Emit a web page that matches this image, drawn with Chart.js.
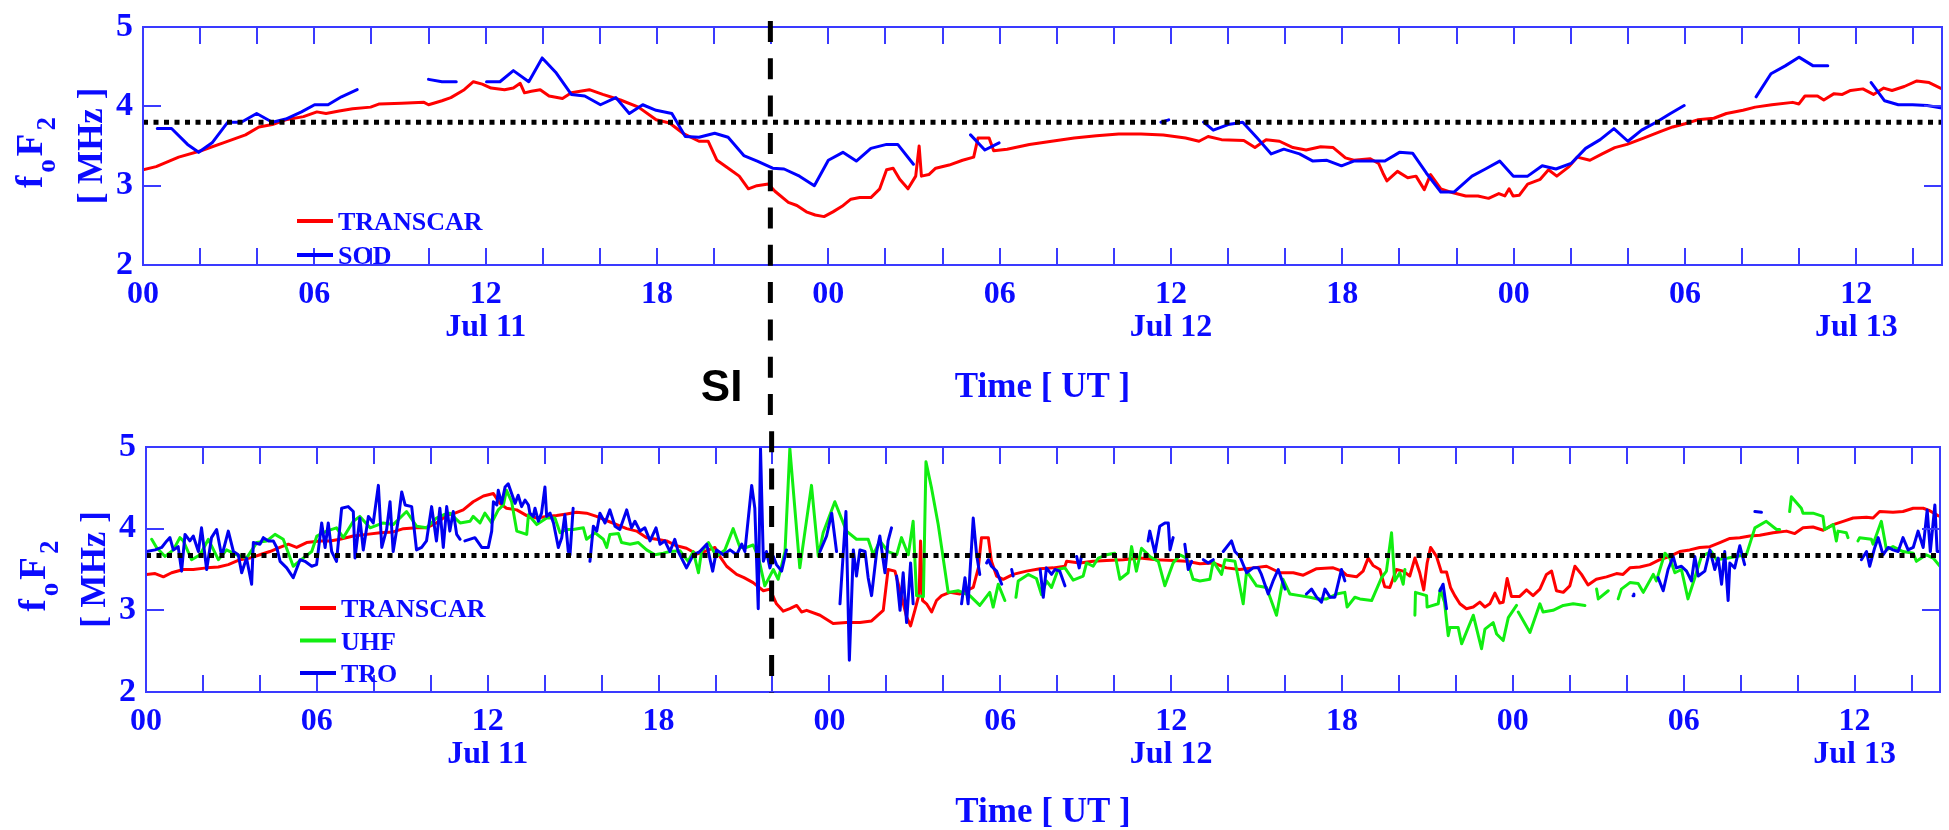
<!DOCTYPE html>
<html>
<head>
<meta charset="utf-8">
<title>foF2 - TRANSCAR vs SOD / UHF / TRO</title>
<script src="https://cdn.jsdelivr.net/npm/chart.js@4.4.1/dist/chart.umd.min.js"></script>
<style>
  html, body { margin: 0; padding: 0; background: #fff; }
  #figure { position: relative; width: 1949px; height: 830px; overflow: hidden; }
  .panel { position: absolute; left: 0; width: 1949px; }
  #panelTop { top: 0; height: 420px; }
  #panelBottom { top: 420px; height: 410px; }
  canvas { display: block; }
</style>
</head>
<body>
<div id="figure">
  <div class="panel" id="panelTop"><canvas id="topChart" width="1949" height="420"></canvas></div>
  <div class="panel" id="panelBottom"><canvas id="bottomChart" width="1949" height="410"></canvas></div>
</div>
<script>
// time axis: hours since 11 July 00 UT
const X_MIN = 0;
const X_MAX = 63;
const dayNames = ['Jul 11', 'Jul 12', 'Jul 13'];
const siOnsetHour = 21.97;

// reference foF2 levels (dotted lines)
const referenceLevelTop = 3.8;
const referenceLevelBottom = 3.67;

// [hour, foF2 MHz]; null marks a data gap
const transcarTop = [
  [0, 3.20], [0.46, 3.24], [1.25, 3.36], [2.03, 3.44], [2.81, 3.54], [3.59, 3.64], [4.06, 3.74], [4.53, 3.77],
  [5.0, 3.83], [5.62, 3.87], [6.09, 3.93], [6.41, 3.91], [6.87, 3.94], [7.34, 3.97], [7.97, 3.99], [8.28, 4.03],
  [9.06, 4.04], [9.84, 4.05], [10.0, 4.02], [10.47, 4.07], [10.78, 4.11], [11.25, 4.21], [11.57, 4.31], [11.88, 4.28],
  [12.19, 4.23], [12.66, 4.21], [12.97, 4.23], [13.21, 4.29], [13.36, 4.17], [13.6, 4.19], [13.91, 4.21], [14.22, 4.13],
  [14.69, 4.10], [15.0, 4.17], [15.31, 4.19], [15.63, 4.21], [16.1, 4.15], [16.72, 4.08], [17.35, 3.99], [17.97, 3.83],
  [18.44, 3.79], [18.91, 3.66], [19.47, 3.56], [19.79, 3.56], [20.1, 3.32], [20.57, 3.20], [20.88, 3.12], [21.2, 2.96],
  [21.5, 3.00], [21.9, 3.02], [22.13, 2.93], [22.6, 2.79], [22.9, 2.75], [23.23, 2.67], [23.54, 2.63], [23.85, 2.61],
  [24.16, 2.67], [24.48, 2.74], [24.79, 2.83], [25.1, 2.85], [25.49, 2.85], [25.8, 2.96], [26.04, 3.20], [26.27, 3.22],
  [26.5, 3.08], [26.79, 2.96], [27.06, 3.12], [27.18, 3.50], [27.26, 3.12], [27.52, 3.14], [27.76, 3.22], [28.23, 3.26],
  [28.7, 3.32], [29.09, 3.36], [29.24, 3.60], [29.63, 3.60], [29.79, 3.44], [30.26, 3.46], [31.04, 3.52], [31.82, 3.56],
  [32.61, 3.60], [33.39, 3.63], [34.17, 3.65], [34.95, 3.65], [35.73, 3.64], [36.51, 3.60], [36.98, 3.56], [37.3, 3.62],
  [37.77, 3.58], [38.55, 3.57], [38.94, 3.48], [39.33, 3.58], [39.8, 3.56], [40.27, 3.48], [40.73, 3.45], [41.24, 3.49],
  [41.68, 3.48], [42.11, 3.35], [42.4, 3.32], [42.69, 3.33], [42.98, 3.34], [43.27, 3.28], [43.42, 3.16], [43.56, 3.06],
  [43.93, 3.18], [44.29, 3.10], [44.58, 3.12], [44.87, 2.95], [45.09, 3.14], [45.45, 2.96], [45.88, 2.91], [46.32, 2.87],
  [46.75, 2.87], [47.12, 2.84], [47.48, 2.90], [47.69, 2.87], [47.84, 2.96], [47.98, 2.87], [48.2, 2.88], [48.49, 3.02],
  [48.93, 3.08], [49.22, 3.20], [49.51, 3.12], [49.94, 3.24], [50.23, 3.36], [50.67, 3.32], [51.1, 3.40], [51.54, 3.48],
  [51.97, 3.52], [52.55, 3.60], [53.13, 3.68], [53.57, 3.74], [54.0, 3.78], [54.44, 3.83], [55.01, 3.85], [55.45, 3.91],
  [56.03, 3.95], [56.46, 3.99], [57.04, 4.02], [57.77, 4.05], [57.99, 4.03], [58.2, 4.13], [58.64, 4.13], [58.86, 4.08],
  [59.22, 4.16], [59.51, 4.15], [59.8, 4.20], [60.23, 4.22], [60.6, 4.15], [60.96, 4.23], [61.25, 4.20], [61.68, 4.25],
  [62.12, 4.32], [62.55, 4.30], [63.0, 4.22]
];

const sodTop = [
  [0.5, 3.72], [1.0, 3.72], [1.56, 3.52], [1.95, 3.42], [2.42, 3.54], [2.97, 3.80], [3.44, 3.80], [3.98, 3.91],
  [4.53, 3.80], [5.0, 3.84], [5.55, 3.93], [6.01, 4.02], [6.48, 4.02], [6.95, 4.12], [7.5, 4.21], [8.5, null],
  [10.0, 4.34], [10.47, 4.31], [10.97, 4.31], [11.5, null],
  [12.03, 4.31], [12.5, 4.31], [12.97, 4.45], [13.51, 4.31], [13.98, 4.61], [14.45, 4.43], [15.0, 4.15], [15.47, 4.13],
  [16.02, 4.02], [16.56, 4.11], [17.03, 3.91], [17.5, 4.02], [17.97, 3.95], [18.52, 3.91], [18.99, 3.62], [19.47, 3.61],
  [20.02, 3.66], [20.49, 3.61], [21.04, 3.38], [21.51, 3.31], [22.05, 3.22], [22.45, 3.21], [22.99, 3.12], [23.51, 3.00],
  [24.0, 3.32], [24.51, 3.42], [24.98, 3.31], [25.49, 3.47], [26.04, 3.52], [26.43, 3.52], [26.98, 3.27], [27.5, null],
  [28.98, 3.64], [29.48, 3.45], [29.98, 3.54], [30.5, null],
  [35.65, 3.80], [35.92, 3.83], [36.5, null],
  [37.14, 3.80], [37.48, 3.70], [38.0, 3.77], [38.51, 3.80], [39.02, 3.60], [39.51, 3.40], [39.95, 3.46], [40.5, 3.40],
  [40.97, 3.31], [41.46, 3.32], [41.97, 3.25], [42.4, 3.31], [42.91, 3.31], [43.49, 3.31], [44.0, 3.42], [44.46, 3.41],
  [44.94, 3.16], [45.45, 2.92], [45.91, 2.92], [46.54, 3.12], [47.01, 3.21], [47.51, 3.31], [47.99, 3.12], [48.49, 3.12],
  [49.0, 3.25], [49.48, 3.21], [50.01, 3.28], [50.52, 3.47], [51.03, 3.58], [51.51, 3.72], [52.0, 3.56], [52.48, 3.70],
  [52.99, 3.80], [53.49, 3.91], [53.97, 4.01], [55.0, null],
  [56.49, 4.12], [57.01, 4.41], [57.51, 4.51], [57.99, 4.62], [58.49, 4.51], [59.0, 4.51], [59.7, null],
  [60.52, 4.30], [60.99, 4.07], [61.47, 4.02], [61.97, 4.02], [62.48, 4.01], [62.99, 3.98]
];

const transcarBottom = [
  [0.02, 3.44], [0.32, 3.45], [0.61, 3.41], [0.90, 3.46], [1.31, 3.50], [1.66, 3.50], [2.13, 3.52], [2.54, 3.53],
  [2.89, 3.56], [3.30, 3.62], [3.65, 3.64], [4.00, 3.68], [4.35, 3.72], [4.70, 3.77], [5.00, 3.81], [5.29, 3.77],
  [5.64, 3.83], [6.11, 3.85], [6.46, 3.85], [6.81, 3.87], [7.28, 3.91], [7.75, 3.93], [8.22, 3.95], [8.68, 3.96],
  [9.04, 4.00], [9.50, 4.01], [9.85, 4.01], [10.20, 4.07], [10.60, 4.17], [10.85, 4.19], [11.14, 4.23], [11.49, 4.33],
  [11.85, 4.40], [12.20, 4.43], [12.43, 4.31], [12.66, 4.25], [13.02, 4.23], [13.37, 4.16], [13.72, 4.13], [14.07, 4.15],
  [14.42, 4.16], [14.77, 4.18], [15.12, 4.20], [15.47, 4.19], [15.82, 4.15], [16.17, 4.10], [16.53, 4.05], [16.88, 4.00],
  [17.23, 3.97], [17.58, 3.89], [17.93, 3.87], [18.28, 3.85], [18.63, 3.79], [18.98, 3.76], [19.34, 3.69], [19.69, 3.73],
  [19.98, 3.77], [20.15, 3.66], [20.39, 3.54], [20.74, 3.44], [21.00, 3.40], [21.32, 3.34], [21.68, 3.24], [21.91, 3.26],
  [22.14, 3.08], [22.38, 2.99], [22.61, 3.02], [22.85, 3.06], [23.02, 2.98], [23.20, 3.00], [23.67, 2.94], [24.13, 2.84],
  [24.60, 2.85], [25.07, 2.85], [25.48, 2.87], [25.89, 3.00], [26.06, 3.50], [26.30, 3.48], [26.48, 3.24], [26.71, 2.92],
  [26.85, 2.81], [27.00, 3.00], [27.15, 3.20], [27.20, 3.85], [27.27, 3.12], [27.41, 3.08], [27.59, 2.98], [27.76, 3.12],
  [27.94, 3.18], [28.23, 3.22], [28.58, 3.20], [29.05, 3.28], [29.23, 3.52], [29.34, 3.89], [29.58, 3.89], [29.69, 3.60],
  [29.87, 3.42], [30.10, 3.38], [30.45, 3.44], [30.92, 3.48], [31.39, 3.51], [31.86, 3.52], [32.27, 3.54], [32.33, 3.60],
  [32.79, 3.58], [33.26, 3.60], [33.73, 3.61], [34.32, 3.62], [34.90, 3.64], [35.49, 3.62], [36.07, 3.61], [36.54, 3.60],
  [37.01, 3.57], [37.48, 3.58], [37.94, 3.52], [38.41, 3.50], [38.88, 3.52], [39.35, 3.54], [39.82, 3.46], [40.29, 3.46],
  [40.64, 3.43], [41.11, 3.51], [41.69, 3.52], [42.00, 3.48], [42.16, 3.43], [42.51, 3.41], [42.74, 3.48], [42.92, 3.64],
  [43.09, 3.55], [43.33, 3.50], [43.50, 3.29], [43.68, 3.28], [43.91, 3.50], [44.15, 3.48], [44.38, 3.42], [44.56, 3.64],
  [44.73, 3.46], [44.87, 3.25], [44.99, 3.58], [45.11, 3.77], [45.32, 3.66], [45.49, 3.47], [45.67, 3.47], [45.81, 3.28],
  [45.96, 3.18], [46.14, 3.08], [46.37, 3.02], [46.61, 3.04], [46.84, 3.10], [47.02, 3.04], [47.19, 3.08], [47.37, 3.21],
  [47.54, 3.09], [47.66, 3.10], [47.80, 3.39], [47.95, 3.17], [48.24, 3.17], [48.48, 3.25], [48.71, 3.18], [48.95, 3.26],
  [49.18, 3.44], [49.36, 3.48], [49.53, 3.24], [49.77, 3.22], [50.00, 3.30], [50.18, 3.54], [50.41, 3.44], [50.64, 3.31],
  [50.93, 3.38], [51.29, 3.41], [51.64, 3.45], [51.87, 3.44], [52.11, 3.52], [52.46, 3.53], [52.81, 3.56], [53.16, 3.62],
  [53.51, 3.66], [53.86, 3.72], [54.21, 3.74], [54.56, 3.77], [54.92, 3.78], [55.27, 3.83], [55.62, 3.88], [55.97, 3.89],
  [56.32, 3.91], [56.67, 3.92], [57.14, 3.95], [57.61, 3.97], [57.90, 3.94], [58.19, 4.01], [58.54, 4.02], [58.90, 3.98],
  [59.25, 4.05], [59.60, 4.09], [59.95, 4.13], [60.42, 4.14], [60.65, 4.13], [60.88, 4.21], [61.35, 4.20], [61.70, 4.21],
  [62.06, 4.25], [62.41, 4.25], [62.64, 4.22], [62.93, 4.16], [63.0, 4.15]
];

const uhfBottom = [
  [0.20, 3.87], [0.37, 3.77], [0.67, 3.66], [0.96, 3.74], [1.19, 3.89], [1.31, 3.85], [1.60, 3.62], [1.90, 3.68],
  [2.19, 3.87], [2.54, 3.62], [2.83, 3.74], [3.18, 3.68], [3.53, 3.64], [3.89, 3.83], [4.24, 3.85], [4.53, 3.93],
  [4.82, 3.87], [5.17, 3.54], [5.52, 3.64], [5.82, 3.72], [6.00, 3.91], [6.34, 3.97], [6.69, 4.01], [6.93, 3.89],
  [7.28, 4.09], [7.51, 4.15], [7.87, 4.01], [8.33, 4.07], [8.68, 4.05], [9.15, 4.21], [9.50, 4.03], [9.85, 4.01],
  [10.20, 4.13], [10.45, 4.17], [10.67, 4.19], [11.03, 4.07], [11.38, 4.09], [11.49, 4.15], [11.73, 4.07], [11.90, 4.19],
  [12.14, 4.07], [12.37, 4.23], [12.55, 4.29], [12.66, 4.47], [12.84, 4.33], [13.02, 3.97], [13.37, 3.93], [13.43, 4.17],
  [13.72, 4.05], [14.07, 4.13], [14.36, 4.13], [14.54, 3.95], [14.77, 3.99], [15.00, 3.99], [15.36, 4.01], [15.47, 3.87],
  [15.77, 3.95], [16.06, 3.87], [16.18, 3.77], [16.29, 3.93], [16.59, 3.94], [16.70, 3.83], [17.00, 3.81], [17.29, 3.83],
  [17.58, 3.74], [17.87, 3.68], [18.17, 3.70], [18.40, 3.72], [18.75, 3.73], [19.04, 3.60], [19.22, 3.72], [19.40, 3.46],
  [19.51, 3.72], [19.75, 3.83], [20.04, 3.66], [20.33, 3.74], [20.62, 4.00], [20.86, 3.77], [21.09, 3.77], [21.32, 3.80],
  [21.50, 3.66], [21.73, 3.30], [22.03, 3.50], [22.20, 3.38], [22.44, 3.72], [22.61, 4.98], [22.96, 3.52], [23.37, 4.53],
  [23.61, 3.66], [23.78, 3.95], [24.19, 4.33], [24.60, 3.97], [24.95, 3.87], [25.36, 3.87], [25.54, 3.68], [25.77, 3.85],
  [26.06, 3.72], [26.36, 3.68], [26.53, 3.89], [26.77, 3.68], [26.94, 4.09], [27.06, 3.18], [27.30, 3.17], [27.39, 4.82],
  [27.59, 4.49], [27.82, 4.05], [27.94, 3.77], [28.17, 3.22], [28.52, 3.24], [28.93, 3.18], [29.28, 3.06], [29.63, 3.22],
  [29.75, 3.04], [29.93, 3.32], [30.16, 3.12], [30.35, null],
  [30.55, 3.16], [30.63, 3.36], [30.98, 3.44], [31.27, 3.39], [31.45, 3.19], [31.62, 3.36], [31.80, 3.28], [32.03, 3.50],
  [32.27, 3.52], [32.56, 3.37], [32.91, 3.42], [33.03, 3.58], [33.26, 3.54], [33.44, 3.64], [33.73, 3.68], [34.02, 3.70],
  [34.20, 3.38], [34.49, 3.46], [34.61, 3.78], [34.78, 3.48], [34.96, 3.76], [35.25, 3.66], [35.55, 3.60], [35.78, 3.30],
  [36.07, 3.58], [36.31, 3.68], [36.54, 3.64], [36.77, 3.38], [37.01, 3.36], [37.36, 3.38], [37.48, 3.60], [37.77, 3.44],
  [37.89, 3.62], [38.24, 3.60], [38.53, 3.08], [38.65, 3.48], [39.00, 3.30], [39.35, 3.28], [39.70, 2.94], [39.93, 3.38],
  [40.17, 3.20], [40.52, 3.18], [40.87, 3.16], [41.11, 3.14], [41.46, 3.14], [41.81, 3.20], [42.10, 3.22], [42.18, 3.04],
  [42.45, 3.16], [42.63, 3.14], [43.04, 3.12], [43.39, 3.40], [43.56, 3.48], [43.74, 3.95], [43.85, 3.36], [44.03, 3.46],
  [44.15, 3.32], [44.21, 3.50], [44.40, null],
  [44.56, 2.94], [44.58, 3.22], [44.97, 3.18], [44.99, 3.04], [45.38, 3.08], [45.45, 3.26], [45.60, 3.10], [45.73, 2.69],
  [45.79, 2.79], [46.08, 2.79], [46.20, 2.59], [46.61, 2.94], [46.90, 2.53], [47.02, 2.77], [47.31, 2.85], [47.43, 2.71],
  [47.66, 2.63], [47.84, 2.91], [48.13, 3.06], [48.16, null],
  [48.19, 2.98], [48.60, 2.73], [48.95, 3.08], [49.06, 2.98], [49.41, 3.00], [49.77, 3.06], [50.12, 3.08], [50.53, 3.06],
  [50.70, null],
  [50.94, 3.26], [51.00, 3.14], [51.35, 3.24], [51.50, null],
  [51.70, 3.14], [51.81, 3.26], [52.11, 3.34], [52.40, 3.33], [52.58, 3.22], [52.93, 3.44], [53.04, 3.36], [53.34, 3.70],
  [53.51, 3.64], [53.69, 3.46], [53.92, 3.50], [54.15, 3.14], [54.39, 3.40], [54.62, 3.66], [54.97, 3.72], [55.15, 3.62],
  [55.56, 3.64], [55.85, 3.66], [56.20, 3.68], [56.50, 4.01], [56.90, 4.09], [57.26, 3.99], [57.37, 3.99], [57.50, null],
  [57.72, 4.21], [57.78, 4.39], [58.13, 4.25], [58.19, 4.19], [58.54, 4.19], [58.89, 4.15], [58.95, 3.99], [59.25, 4.05],
  [59.36, 3.85], [59.42, 3.97], [59.71, 3.95], [59.77, 3.89], [59.90, null],
  [60.12, 3.85], [60.18, 3.89], [60.59, 3.87], [60.65, 3.81], [60.94, 4.09], [61.12, 3.74], [61.35, 3.78], [61.70, 3.72],
  [62.06, 3.70], [62.17, 3.60], [62.52, 3.68], [62.76, 3.64], [63.00, 3.54]
];

const troBottom = [
  [0.02, 3.72], [0.32, 3.74], [0.55, 3.77], [0.73, 3.85], [0.84, 3.89], [0.96, 3.74], [1.13, 3.78], [1.25, 3.48],
  [1.37, 3.93], [1.54, 3.85], [1.66, 3.91], [1.84, 3.72], [1.95, 4.01], [2.13, 3.50], [2.30, 3.89], [2.48, 3.99],
  [2.66, 3.66], [2.89, 3.97], [3.07, 3.72], [3.24, 3.68], [3.36, 3.46], [3.53, 3.64], [3.71, 3.32], [3.77, 3.83],
  [4.00, 3.81], [4.12, 3.89], [4.30, 3.85], [4.47, 3.85], [4.59, 3.77], [4.71, 3.60], [4.94, 3.52], [5.17, 3.40],
  [5.41, 3.62], [5.58, 3.60], [5.82, 3.54], [5.99, 3.56], [6.17, 4.07], [6.29, 3.77], [6.40, 4.07], [6.52, 3.72],
  [6.69, 3.60], [6.87, 4.25], [7.10, 4.27], [7.28, 4.21], [7.34, 3.64], [7.51, 4.13], [7.63, 3.74], [7.81, 4.15],
  [7.98, 4.07], [8.16, 4.53], [8.28, 3.77], [8.45, 3.99], [8.57, 4.33], [8.68, 3.72], [8.86, 4.11], [8.98, 4.45],
  [9.10, 4.29], [9.33, 4.27], [9.50, 3.74], [9.68, 3.77], [9.85, 3.85], [10.03, 4.27], [10.20, 3.85], [10.32, 4.25],
  [10.44, 3.77], [10.56, 4.27], [10.67, 3.97], [10.79, 4.21], [10.91, 3.93], [11.03, 3.87], [11.10, null],
  [11.20, 3.85], [11.55, 3.89], [11.79, 3.77], [12.02, 3.77], [12.14, 3.97], [12.20, 4.33], [12.32, 4.29], [12.37, 4.47],
  [12.49, 4.31], [12.61, 4.51], [12.72, 4.55], [12.84, 4.43], [12.96, 4.31], [13.07, 4.41], [13.19, 4.27], [13.31, 4.35],
  [13.43, 4.29], [13.48, 4.19], [13.60, 4.15], [13.66, 4.25], [13.78, 4.09], [13.89, 4.19], [14.01, 4.51], [14.07, 4.15],
  [14.19, 4.19], [14.31, 4.07], [14.48, 3.77], [14.60, 3.89], [14.71, 4.17], [14.83, 3.72], [14.86, null],
  [14.89, 3.68], [15.00, 4.25], [15.30, null],
  [15.59, 3.60], [15.71, 4.03], [15.83, 3.97], [15.94, 4.19], [16.12, 4.07], [16.29, 4.23], [16.47, 4.03], [16.64, 3.99],
  [16.88, 4.23], [17.05, 4.01], [17.17, 4.09], [17.35, 3.97], [17.52, 4.01], [17.70, 3.85], [17.91, 4.01], [18.05, 3.81],
  [18.22, 3.85], [18.40, 3.72], [18.57, 3.87], [18.69, 3.72], [18.98, 3.52], [19.22, 3.68], [19.45, 3.72], [19.69, 3.81],
  [19.90, 3.48], [20.04, 3.74], [20.27, 3.68], [20.51, 3.74], [20.74, 3.68], [20.92, 3.81], [21.03, 3.72], [21.27, 4.53],
  [21.38, 4.25], [21.50, 3.02], [21.58, 4.98], [21.68, 3.60], [21.79, 3.72], [21.91, 3.52], [22.03, 3.66], [22.14, 3.56],
  [22.32, 3.48], [22.49, 3.74], [23.00, null],
  [23.67, 3.72], [23.90, 3.91], [24.08, 4.19], [24.25, 3.72], [24.30, null],
  [24.37, 3.08], [24.58, 4.21], [24.70, 2.39], [24.84, 3.74], [24.95, 3.42], [25.07, 3.74], [25.25, 3.72], [25.36, 3.40],
  [25.48, 3.18], [25.66, 3.72], [25.77, 3.91], [25.95, 3.46], [26.06, 3.85], [26.18, 4.01], [26.27, null],
  [26.36, 3.42], [26.48, 3.00], [26.59, 3.46], [26.71, 2.85], [26.85, 3.58], [26.94, 3.08], [27.50, null],
  [28.64, 3.08], [28.76, 3.40], [28.87, 3.08], [29.05, 4.13], [29.17, 3.68], [29.28, 3.44], [29.40, null],
  [29.52, 3.58], [29.58, 3.62], [29.69, 3.54], [29.87, 3.48], [30.05, 3.32], [30.20, null],
  [30.40, 3.50], [30.45, 3.42], [31.00, null],
  [31.40, 3.50], [31.51, 3.16], [31.62, 3.52], [31.80, 3.44], [31.92, 3.50], [32.09, 3.48], [32.27, 3.30], [32.50, null],
  [32.68, 3.66], [32.77, 3.52], [32.85, 3.66], [34.00, null],
  [35.19, 3.85], [35.25, 3.97], [35.43, 3.70], [35.60, 4.03], [35.78, 4.07], [35.90, 4.07], [35.96, 3.74], [36.07, 3.89],
  [36.30, null],
  [36.48, 3.81], [36.60, 3.50], [36.72, 3.60], [36.90, null],
  [37.13, 3.62], [37.30, 3.58], [37.48, 3.62], [37.65, null],
  [37.83, 3.72], [38.12, 3.85], [38.24, 3.72], [38.41, 3.66], [38.65, 3.46], [38.88, 3.52], [39.06, 3.52], [39.17, 3.44],
  [39.41, 3.20], [39.58, 3.36], [39.76, 3.50], [40.00, 3.26], [40.40, null],
  [40.75, 3.20], [40.93, 3.26], [41.11, 3.16], [41.28, 3.10], [41.40, 3.26], [41.58, 3.16], [41.75, 3.16], [41.98, 3.50],
  [42.10, 3.36], [43.00, null],
  [45.44, 3.24], [45.55, 3.32], [45.67, 3.02], [48.00, null],
  [52.22, 3.18], [52.25, 3.20], [52.60, null],
  [53.10, 3.40], [53.28, 3.24], [53.45, 3.50], [53.63, 3.66], [53.74, 3.52], [53.92, 3.54], [54.10, 3.48], [54.27, 3.36],
  [54.39, 3.66], [54.51, 3.42], [54.74, 3.48], [54.92, 3.74], [55.09, 3.50], [55.21, 3.64], [55.33, 3.32], [55.44, 3.72],
  [55.56, 3.12], [55.62, 3.58], [55.79, 3.52], [55.97, 3.79], [56.14, 3.56], [56.30, null],
  [56.50, 4.21], [56.73, 4.20], [58.00, null],
  [60.24, 3.62], [60.42, 3.72], [60.53, 3.54], [60.71, 3.77], [60.83, 3.89], [61.00, 3.68], [61.18, 3.77], [61.35, 3.74],
  [61.53, 3.72], [61.70, 3.89], [61.88, 3.74], [62.06, 3.77], [62.23, 3.97], [62.41, 3.77], [62.55, 4.23], [62.66, 3.72],
  [62.82, 4.29], [62.90, 3.72], [62.97, 3.72]
];

const TEXT_BLUE = '#0b0bff';
const FRAME_BLUE = '#3a3aff';
const SERIF = '"Liberation Serif", "Times New Roman", Times, serif';

function toPoints(pairs) {
  return pairs.map(([x, y]) => ({ x, y }));
}

function levelLine(level) {
  return {
    data: [{ x: X_MIN, y: level }, { x: X_MAX, y: level }],
    borderColor: '#000000',
    borderWidth: 5,
    borderDash: [5, 5.5],
    borderCapStyle: 'butt',
    order: 0
  };
}

function series(label, pairs, color, order) {
  return {
    label,
    data: toPoints(pairs),
    borderColor: color,
    backgroundColor: color,
    borderWidth: 3,
    spanGaps: false,
    order
  };
}

function hourLabel(value) {
  const hh = String(value % 24).padStart(2, '0');
  return value % 24 === 12 ? [hh, dayNames[Math.floor(value / 24)]] : hh;
}

function drawFrame(chart) {
  const { ctx, chartArea: a, scales: { x, y } } = chart;
  ctx.save();
  ctx.strokeStyle = FRAME_BLUE;
  ctx.lineWidth = 2;
  ctx.beginPath();
  for (let h = X_MIN + 2; h < X_MAX; h += 2) {
    const px = Math.round(x.getPixelForValue(h));
    ctx.moveTo(px, a.top);
    ctx.lineTo(px, a.top + 17);
    ctx.moveTo(px, a.bottom);
    ctx.lineTo(px, a.bottom - 17);
  }
  for (let v = 3; v <= 4; v++) {
    const py = Math.round(y.getPixelForValue(v));
    ctx.moveTo(a.left, py);
    ctx.lineTo(a.left + 18, py);
    ctx.moveTo(a.right, py);
    ctx.lineTo(a.right - 18, py);
  }
  ctx.stroke();
  ctx.strokeRect(a.left, a.top, a.right - a.left, a.bottom - a.top);
  ctx.restore();
}

// frame, inward ticks, y title, inline legend and the SI marker
const panelDecor = {
  id: 'panelDecor',
  afterDatasetsDraw(chart, args, opts) {
    drawFrame(chart);
    const { ctx, chartArea: a, scales: { x } } = chart;
    const sx = x.getPixelForValue(siOnsetHour);
    ctx.save();
    ctx.strokeStyle = '#000000';
    ctx.lineWidth = 5;
    ctx.setLineDash([21, 16.3]);
    ctx.lineDashOffset = opts.siDashOffset;
    ctx.beginPath();
    ctx.moveTo(sx, opts.siFrom);
    ctx.lineTo(sx, opts.siToArea ? a.bottom + 1 : chart.height);
    ctx.stroke();
    ctx.restore();
  },
  afterDraw(chart, args, opts) {
    const { ctx, chartArea: a, scales: { x } } = chart;
    const cy = (a.top + a.bottom) / 2;

    // y title: f_o F_2 next to [ MHz ]
    ctx.save();
    ctx.fillStyle = TEXT_BLUE;
    ctx.translate(a.left - 101, cy + 5);
    ctx.rotate(-Math.PI / 2);
    ctx.textBaseline = 'alphabetic';
    ctx.textAlign = 'left';
    const big = `bold 37px ${SERIF}`;
    const small = `bold 27px ${SERIF}`;
    const parts = [['f', big, 0], ['o', small, 13], ['F', big, 0], ['2', small, 13]];
    let total = 0;
    parts.forEach(([t, f]) => { ctx.font = f; total += ctx.measureText(t).width + 3; });
    let tx = -total / 2;
    parts.forEach(([t, f, dy]) => {
      ctx.font = f;
      ctx.fillText(t, tx, dy);
      tx += ctx.measureText(t).width + 3;
    });
    ctx.restore();

    ctx.save();
    ctx.fillStyle = TEXT_BLUE;
    ctx.translate(a.left - 50, cy);
    ctx.rotate(-Math.PI / 2);
    ctx.font = `bold 35px ${SERIF}`;
    ctx.textAlign = 'center';
    ctx.textBaseline = 'middle';
    ctx.fillText('[ MHz ]', 0, 0);
    ctx.restore();

    // inline legend
    ctx.save();
    ctx.font = `bold 26px ${SERIF}`;
    ctx.textAlign = 'left';
    ctx.textBaseline = 'alphabetic';
    let row = 0;
    chart.data.datasets.forEach(ds => {
      if (!ds.label) return;
      const ly = a.top + opts.legendTop + row * opts.legendGap;
      ctx.strokeStyle = ds.borderColor;
      ctx.lineWidth = 4;
      ctx.beginPath();
      ctx.moveTo(a.left + 154, ly);
      ctx.lineTo(a.left + 190, ly);
      ctx.stroke();
      ctx.fillStyle = TEXT_BLUE;
      ctx.fillText(ds.label, a.left + 195, ly + 9);
      row++;
    });
    ctx.restore();

    if (opts.siLabel) {
      ctx.save();
      ctx.fillStyle = '#000000';
      ctx.font = 'bold 44px "Liberation Sans", Arial, sans-serif';
      ctx.textAlign = 'right';
      ctx.textBaseline = 'alphabetic';
      ctx.fillText('SI', x.getPixelForValue(siOnsetHour) - 28, 401);
      ctx.restore();
    }
  }
};

function panelOptions(cfg) {
  return {
    responsive: false,
    animation: false,
    events: [],
    layout: { padding: { top: cfg.padTop, right: cfg.padRight, left: 0, bottom: 0 } },
    elements: {
      point: { radius: 0 },
      line: { tension: 0, borderJoinStyle: 'round', borderCapStyle: 'round' }
    },
    plugins: {
      legend: { display: false },
      tooltip: { enabled: false },
      panelDecor: cfg.decor
    },
    scales: {
      x: {
        type: 'linear',
        min: X_MIN,
        max: X_MAX,
        afterBuildTicks: s => { s.ticks = s.ticks.filter(t => t.value % 6 === 0); },
        afterFit: s => { s.height = cfg.xHeight; },
        grid: { display: false, drawTicks: false },
        border: { display: false },
        ticks: {
          stepSize: 6,
          autoSkip: false,
          maxRotation: 0,
          padding: 13,
          color: TEXT_BLUE,
          font: { family: SERIF, size: 32, weight: 'bold', lineHeight: 1.03 },
          callback: hourLabel
        },
        title: {
          display: true,
          text: 'Time [ UT ]',
          color: TEXT_BLUE,
          font: { family: SERIF, size: 35, weight: 'bold', lineHeight: 1 },
          padding: { top: 0, bottom: cfg.titlePad }
        }
      },
      y: {
        min: 2,
        max: 5,
        afterFit: s => { s.width = cfg.yWidth; },
        grid: { display: false, drawTicks: false },
        border: { display: false },
        ticks: {
          stepSize: 1,
          padding: 10,
          color: TEXT_BLUE,
          font: { family: SERIF, size: 34, weight: 'bold', lineHeight: 1 }
        }
      }
    }
  };
}

new Chart(document.getElementById('topChart'), {
  type: 'line',
  data: {
    datasets: [
      levelLine(referenceLevelTop),
      series('TRANSCAR', transcarTop, '#ff0000', 2),
      series('SOD', sodTop, '#0000ff', 1)
    ]
  },
  options: panelOptions({
    padTop: 18, padRight: 7, xHeight: 155, yWidth: 143, titlePad: 15,
    decor: { legendTop: 194, legendGap: 34, siFrom: 21, siToArea: false, siDashOffset: 0, siLabel: true }
  }),
  plugins: [panelDecor]
});

new Chart(document.getElementById('bottomChart'), {
  type: 'line',
  data: {
    datasets: [
      levelLine(referenceLevelBottom),
      series('TRANSCAR', transcarBottom, '#ff0000', 3),
      series('UHF', uhfBottom, '#11ee11', 2),
      series('TRO', troBottom, '#0000f0', 1)
    ]
  },
  options: panelOptions({
    padTop: 25, padRight: 9, xHeight: 138, yWidth: 146, titlePad: 0,
    decor: { legendTop: 161, legendGap: 32.5, siFrom: 0, siToArea: true, siDashOffset: 26, siLabel: false }
  }),
  plugins: [panelDecor]
});
</script>
</body>
</html>
